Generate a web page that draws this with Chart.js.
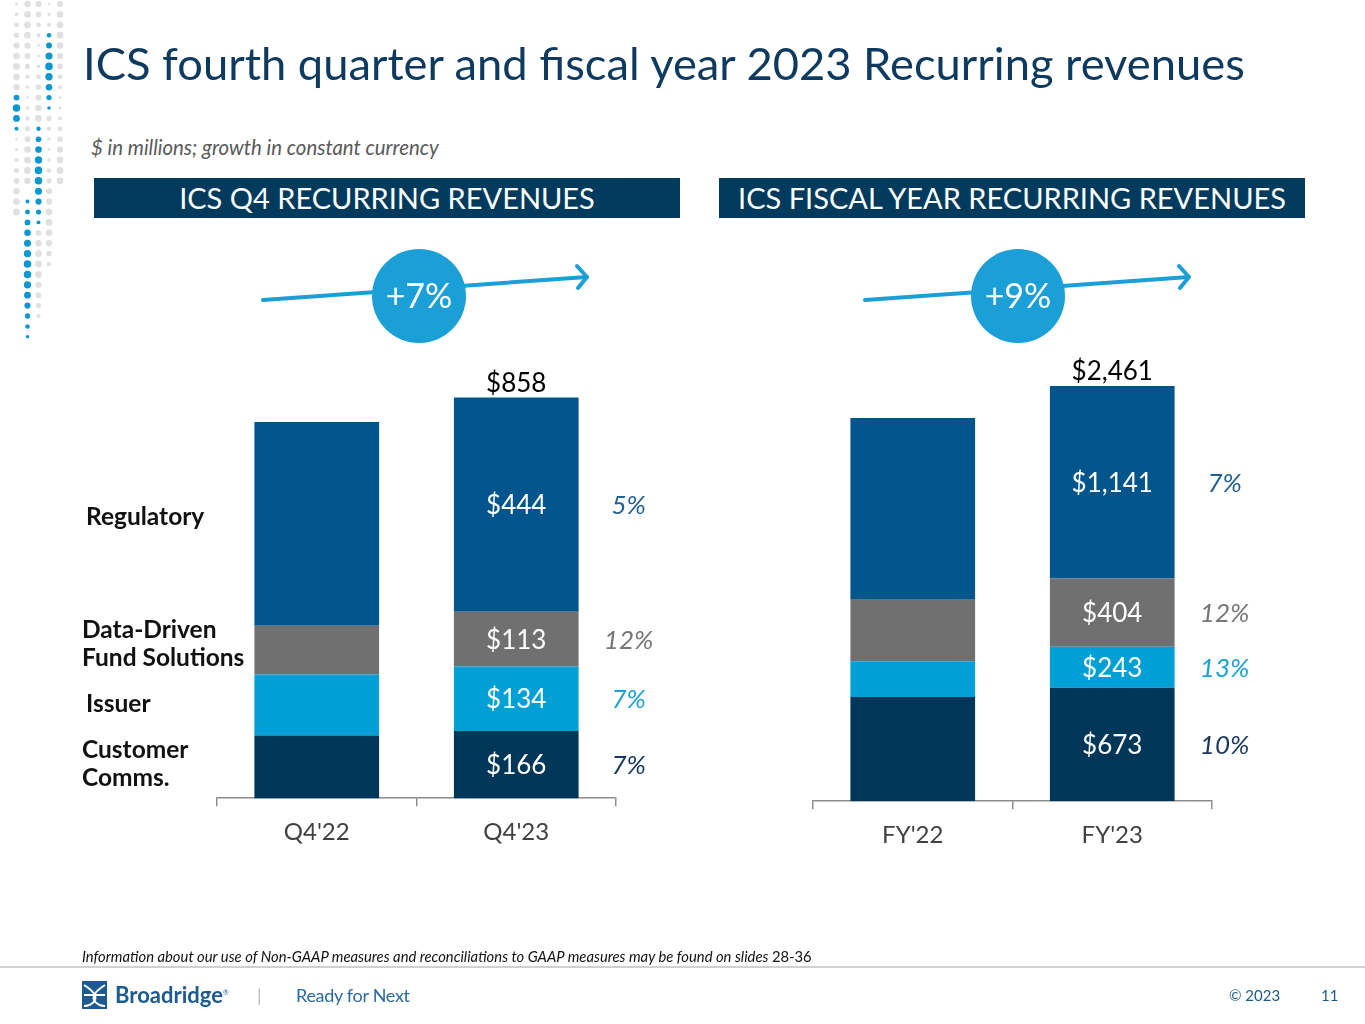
<!DOCTYPE html>
<html>
<head>
<meta charset="utf-8">
<script src="https://cdn.jsdelivr.net/npm/chart.js@4.4.0/dist/chart.umd.min.js"></script>
<style>
  body { margin: 0; width: 1365px; height: 1024px; background: #fff; position: relative; overflow: hidden; font-family: Lato, "Open Sans", sans-serif; }
  .abs { position: absolute; }
  #title { left: 83px; top: 35px; font-size: 45.3px; color: #0d3a5e; white-space: nowrap; }
  #subtitle { left: 91px; top: 135px; font-size: 20.4px; font-style: italic; color: #595959; }
  .header { top: 178px; width: 586px; height: 40px; background: #003a5d; color: #fff; font-size: 29px; line-height: 40px; text-align: center; white-space: nowrap; }
  .seg { font-weight: bold; font-size: 24.5px; color: #111; line-height: 28px; }
  .chartbox { position: absolute; }
  #footnote { left: 82px; top: 947px; font-size: 14.8px; font-style: italic; color: #111; white-space: nowrap; }
  #footnote span { font-style: normal; }
  #rule { left: 0; top: 966px; width: 1365px; height: 2px; background: #d0d0d0; }
</style>
</head>
<body>
<canvas id="dots" class="abs" width="90" height="350" style="left:0;top:0"></canvas>

<div id="title" class="abs">ICS fourth quarter and fiscal year 2023 Recurring revenues</div>
<div id="subtitle" class="abs">$ in millions; growth in constant currency</div>

<div class="abs header" style="left:94px">ICS Q4 RECURRING REVENUES</div>
<div class="abs header" style="left:719px">ICS FISCAL YEAR RECURRING REVENUES</div>

<svg class="abs" style="left:0;top:0" width="1365" height="1024">
  <g stroke="#1a9fd6" stroke-width="4" fill="none" stroke-linecap="round" stroke-linejoin="round">
    <line x1="263" y1="300" x2="587" y2="277"/>
    <polyline points="577,266 587,277 578,288"/>
    <line x1="865" y1="300" x2="1189" y2="277"/>
    <polyline points="1179,266 1189,277 1180,288"/>
  </g>
  <circle cx="419" cy="296" r="47" fill="#1a9fd6"/>
  <circle cx="1018" cy="296" r="47" fill="#1a9fd6"/>
  <text x="419" y="308" fill="#fff" font-family="Lato" font-size="34" text-anchor="middle">+7%</text>
  <text x="1018" y="308" fill="#fff" font-family="Lato" font-size="34" text-anchor="middle">+9%</text>
  <!-- logo mark -->
  <rect x="82" y="981" width="25" height="28" fill="#1c5a8f"/>
  <path d="M84 985 C92 990, 97 995, 95 1000 C93 1004, 88 1006, 84 1006 M105 985 C97 990, 92 995, 94 1000 C96 1004, 101 1006, 105 1006 M84 995 L105 995" stroke="#fff" stroke-width="2" fill="none"/>
</svg>

<div class="abs seg" style="left:86px;top:502px">Regulatory</div>
<div class="abs seg" style="left:82px;top:615px">Data-Driven<br>Fund Solutions</div>
<div class="abs seg" style="left:86px;top:689px">Issuer</div>
<div class="abs seg" style="left:82px;top:735px">Customer<br>Comms.</div>

<div class="chartbox" style="left:215px;top:340px;width:480px;height:519px"><canvas id="q4Chart"></canvas></div>
<div class="chartbox" style="left:811px;top:340px;width:480px;height:522px"><canvas id="fyChart"></canvas></div>

<div id="footnote" class="abs">Information about our use of Non-GAAP measures and reconciliations to GAAP measures may be found on slides <span>28-36</span></div>
<div id="rule" class="abs"></div>
<div class="abs" style="left:115px;top:981px;font-size:22px;font-weight:bold;color:#1c5a8f">Broadridge<sup style="font-size:7px;font-weight:normal">®</sup></div>
<div class="abs" style="left:257px;top:984px;font-size:18px;color:#bbb">|</div>
<div class="abs" style="left:296px;top:984px;font-size:18px;color:#2a6aa0;letter-spacing:-0.3px">Ready for Next</div>
<div class="abs" style="left:1229px;top:986px;font-size:15px;color:#1c5a8f">© 2023</div>
<div class="abs" style="left:1321px;top:986px;font-size:15px;color:#1c5a8f">11</div>

<script>
// categories and series (bottom to top of the stack)
const q4Labels = ["Q4'22", "Q4'23"];
const q4CustomerComms = [157, 166];
const q4Issuer = [126, 134];
const q4DataDriven = [101, 113];
const q4Regulatory = [422, 444];
const q4Totals = [806, 858];
const q4Growth = ['7%', '7%', '12%', '5%'];

const fyLabels = ["FY'22", "FY'23"];
const fyCustomerComms = [617, 673];
const fyIssuer = [213, 243];
const fyDataDriven = [368, 404];
const fyRegulatory = [1073, 1141];
const fyTotals = [2271, 2461];
const fyGrowth = ['10%', '13%', '12%', '7%'];

const segColors = ['#003658', '#00a0d6', '#707070', '#00558c'];
const growthColors = ['#17375e', '#1ba1d6', '#767676', '#1f5f96'];

// decorative dot column top-left
(function () {
    const c = document.getElementById('dots').getContext('2d');
    const cols = [16.5, 27.5, 38.5, 49, 60];
    const greyTo = [222, 187, 320, 265, 185];
    const blue = [[89, 131], [193, 341], [119, 228], [27, 110], null];
    for (let i = 0; i < cols.length; i++) {
        for (let y = 4; y < 345; y += 10.4) {
            const b = blue[i];
            let r, col;
            if (b && y >= b[0] && y <= b[1]) {
                const t = (y - b[0]) / (b[1] - b[0]);
                r = 1.6 + 2.2 * Math.sin(Math.PI * t);
                col = '#0b97cf';
            } else if (y <= greyTo[i]) {
                r = 1.2 + 2.2 * Math.abs(Math.sin(y / 45 + i));
                col = '#e0e0e0';
            } else continue;
            c.beginPath();
            c.arc(cols[i], y, r, 0, Math.PI * 2);
            c.fillStyle = col;
            c.fill();
        }
    }
})();

function fmt(v) {
    return '$' + v.toLocaleString('en-US');
}

function labelPlugin(totals, growth) {
    return {
        id: 'segLabels',
        afterDatasetsDraw(chart) {
            const ctx = chart.ctx;
            const area = chart.chartArea;
            ctx.save();
            ctx.textAlign = 'center';
            ctx.textBaseline = 'middle';
            let topY = area.bottom;
            chart.data.datasets.forEach(function (ds, i) {
                const el = chart.getDatasetMeta(i).data[1];
                const bottom = Math.min(el.base, area.bottom);
                const mid = (el.y + bottom) / 2;
                topY = Math.min(topY, el.y);
                ctx.font = '26px Lato';
                ctx.fillStyle = '#fff';
                ctx.fillText(fmt(ds.data[1]), el.x, mid + 1);
                ctx.font = 'italic 26px Lato';
                ctx.fillStyle = growthColors[i];
                ctx.fillText(growth[i], el.x + el.width / 2 + 50, mid + 1);
            });
            const last = chart.getDatasetMeta(0).data[1];
            ctx.font = '26px Lato';
            ctx.fillStyle = '#000';
            ctx.fillText(fmt(totals[1]), last.x, topY - 14);
            ctx.restore();
        }
    };
}

function makeChart(id, labels, series, min, max, totals, growth) {
    const names = ['Customer Comms.', 'Issuer', 'Data-Driven Fund Solutions', 'Regulatory'];
    return new Chart(document.getElementById(id).getContext('2d'), {
        type: 'bar',
        data: {
            labels: labels,
            datasets: series.map(function (d, i) {
                return {
                    label: names[i],
                    data: d,
                    backgroundColor: segColors[i],
                    borderWidth: 0,
                    barPercentage: 1,
                    categoryPercentage: 0.625
                };
            })
        },
        options: {
            responsive: true,
            maintainAspectRatio: false,
            animation: false,
            layout: { padding: { left: 2, right: 79, top: 0, bottom: 0 } },
            plugins: { legend: { display: false }, tooltip: { enabled: false } },
            scales: {
                x: {
                    stacked: true,
                    border: { display: true, color: '#8c8c8c', width: 1.5 },
                    grid: { display: true, drawOnChartArea: false, drawTicks: true, tickLength: 8, color: '#8c8c8c', lineWidth: 1.5 },
                    ticks: { color: '#404040', font: { family: 'Lato', size: 24 }, padding: 12 }
                },
                y: { stacked: true, display: false, min: min, max: max }
            }
        },
        plugins: [labelPlugin(totals, growth)]
    });
}

makeChart('q4Chart', q4Labels, [q4CustomerComms, q4Issuer, q4DataDriven, q4Regulatory], 27, 976, q4Totals, q4Growth);
makeChart('fyChart', fyLabels, [fyCustomerComms, fyIssuer, fyDataDriven, fyRegulatory], 0, 2734, fyTotals, fyGrowth);
</script>
</body>
</html>
